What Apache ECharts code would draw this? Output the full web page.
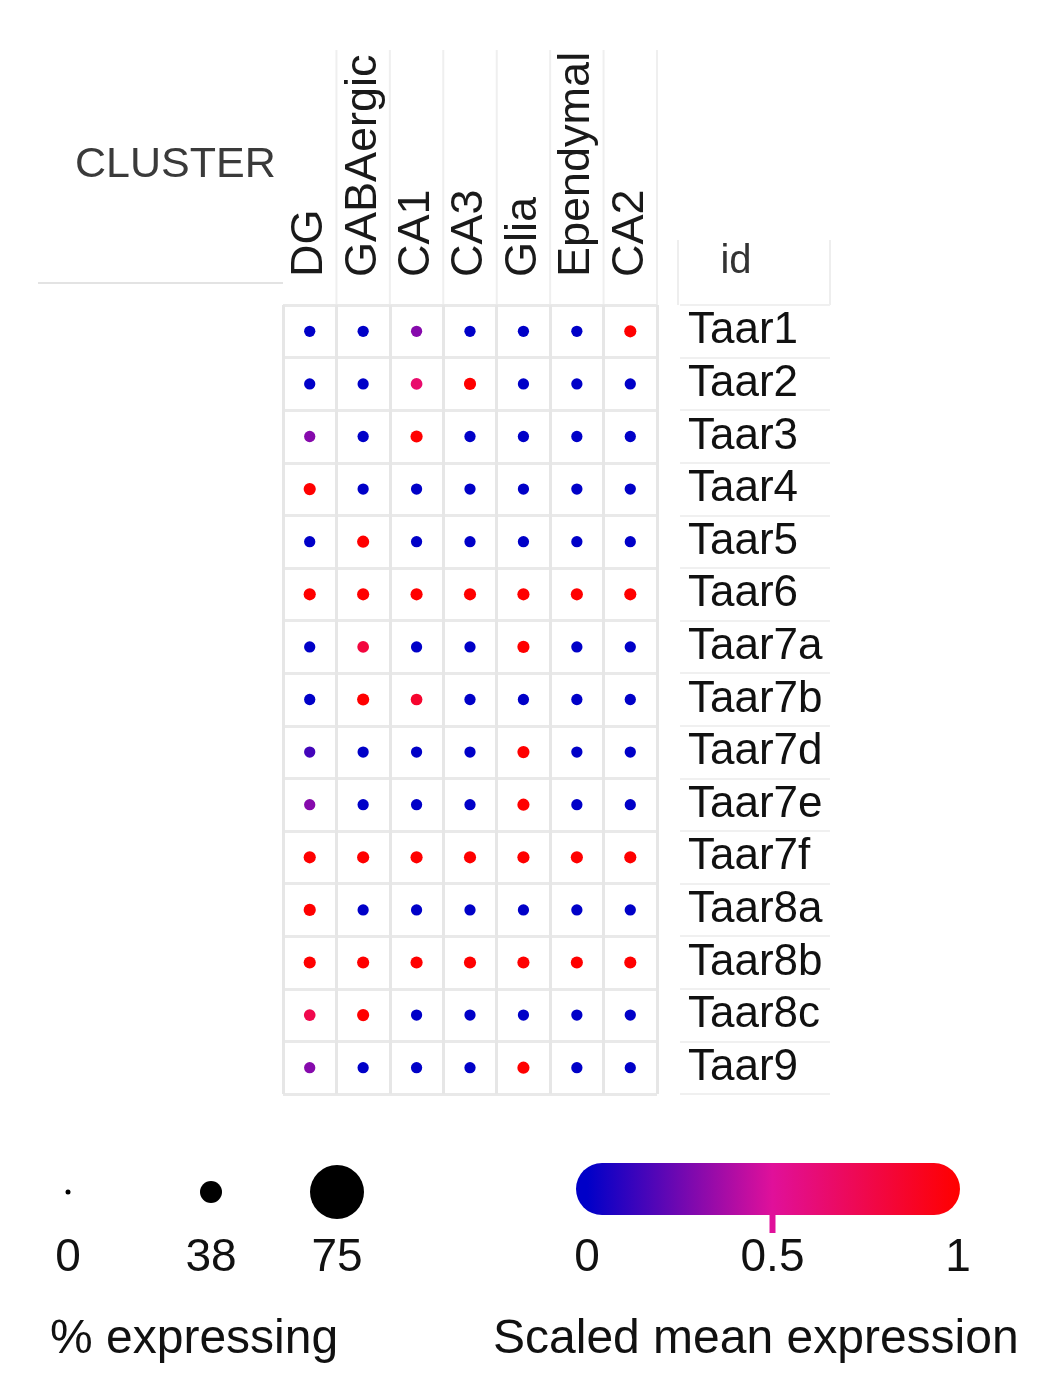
<!DOCTYPE html>
<html><head><meta charset="utf-8">
<script src="https://cdn.jsdelivr.net/npm/echarts@6/dist/echarts.min.js"></script>
<style>html,body{margin:0;padding:0;background:#fff}#c{width:1050px;height:1397px}</style>
</head><body><div id="c"></div>
<script>
const clusters = ['DG','GABAergic','CA1','CA3','Glia','Ependymal','CA2'];
const genes = ['Taar1','Taar2','Taar3','Taar4','Taar5','Taar6','Taar7a','Taar7b','Taar7d','Taar7e','Taar7f','Taar8a','Taar8b','Taar8c','Taar9'];
// scaled mean expression (rows = genes, cols = clusters)
const expr = [
  [0,0,0.3,0,0,0,1],
  [0,0,0.65,1,0,0,0],
  [0.3,0,1,0,0,0,0],
  [1,0,0,0,0,0,0],
  [0,1,0,0,0,0,0],
  [1,1,1,1,1,1,1],
  [0,0.8,0,0,1,0,0],
  [0,1,0.85,0,0,0,0],
  [0.15,0,0,0,1,0,0],
  [0.3,0,0,0,1,0,0],
  [1,1,1,1,1,1,1],
  [1,0,0,0,0,0,0],
  [1,1,1,1,1,1,1],
  [0.75,1,0,0,0,0,0],
  [0.3,0,0,0,1,0,0]
];
// % expressing
const pctExpr = [
  [14,14,14,14,14,14,16],
  [14,14,15,16,14,14,14],
  [14,14,16,14,14,14,14],
  [16,14,14,14,14,14,14],
  [14,16,14,14,14,14,14],
  [16,16,16,16,16,16,16],
  [14,15,14,14,16,14,14],
  [14,16,15,14,14,14,14],
  [14,14,14,14,16,14,14],
  [14,14,14,14,16,14,14],
  [16,16,16,16,16,16,16],
  [16,14,14,14,14,14,14],
  [16,16,16,16,16,16,16],
  [15,16,14,14,14,14,14],
  [14,14,14,14,16,14,14]
];
const sizeTicks = [0,38,75];
const sizeDiam = [5,22,54];
const colorTicks = [0,0.5,1];
const colorStops = ['#0000c8','#e0109a','#ff0000'];

function sizeOf(p){
  if (p <= sizeTicks[1]) return sizeDiam[0] + (p - sizeTicks[0])/(sizeTicks[1]-sizeTicks[0])*(sizeDiam[1]-sizeDiam[0]);
  return sizeDiam[1] + (p - sizeTicks[1])/(sizeTicks[2]-sizeTicks[1])*(sizeDiam[2]-sizeDiam[1]);
}

const FONT = '"Liberation Sans", Arial, sans-serif';
const G = {left:283, top:305, width:374, height:789};
const colW = G.width/clusters.length;

const data = [];
genes.forEach((g,r)=>clusters.forEach((c,ci)=>data.push([ci, r, expr[r][ci], pctExpr[r][ci]])));

const graphics = [];
graphics.push({type:'text', left:75, top:144, style:{text:'CLUSTER', font:'43px '+FONT, fill:'#3a3a3a'}});
graphics.push({type:'line', shape:{x1:38,y1:283,x2:283,y2:283}, style:{stroke:'#e3e3e3', lineWidth:2}});
for (let k=1;k<=clusters.length;k++){
  const x = G.left + k*colW;
  graphics.push({type:'line', shape:{x1:x,y1:50,x2:x,y2:G.top}, style:{stroke:'#efefef', lineWidth:2}});
}
graphics.push({type:'text', x:736, y:262, style:{text:'id', font:'40px '+FONT, fill:'#333', textAlign:'center', textVerticalAlign:'middle'}});
graphics.push({type:'line', shape:{x1:678,y1:240,x2:678,y2:G.top}, style:{stroke:'#eeeeee', lineWidth:2}});
graphics.push({type:'line', shape:{x1:830,y1:240,x2:830,y2:G.top}, style:{stroke:'#eeeeee', lineWidth:2}});
// size legend
const sizeX = [68,211,337];
sizeTicks.forEach((t,i)=>{
  graphics.push({type:'circle', shape:{cx:sizeX[i], cy:1192, r:sizeOf(t)/2}, style:{fill:'#000'}});
  graphics.push({type:'text', x:sizeX[i], y:1258, style:{text:String(t), font:'46px '+FONT, fill:'#111', textAlign:'center', textVerticalAlign:'middle'}});
});
graphics.push({type:'text', x:50, y:1340, style:{text:'% expressing', font:'48px '+FONT, fill:'#111', textAlign:'left', textVerticalAlign:'middle'}});
// colour legend
const cbX0 = 587, cbX1 = 958, barL = 576, barW = 384;
graphics.push({type:'rect', shape:{x:barL, y:1163, width:barW, height:52, r:26},
  style:{fill:new echarts.graphic.LinearGradient(0,0,1,0,
    colorTicks.map((t,i)=>({offset:(cbX0 + t*(cbX1-cbX0) - barL)/barW, color:colorStops[i]})))}});
graphics.push({type:'rect', shape:{x:cbX0 + 0.5*(cbX1-cbX0) - 3, y:1212, width:6, height:21}, style:{fill:'#e0109a'}});
colorTicks.forEach(t=>{
  graphics.push({type:'text', x:cbX0 + t*(cbX1-cbX0), y:1258, style:{text:String(t), font:'46px '+FONT, fill:'#111', textAlign:'center', textVerticalAlign:'middle'}});
});
graphics.push({type:'text', x:493, y:1340, style:{text:'Scaled mean expression', font:'48px '+FONT, fill:'#111', textAlign:'left', textVerticalAlign:'middle'}});

const chart = echarts.init(document.getElementById('c'), null, {renderer:'canvas'});
chart.setOption({
  animation:false,
  backgroundColor:'#fff',
  grid:[
    {left:G.left, top:G.top, width:G.width, height:G.height},
    {left:680, top:G.top, width:150, height:G.height}
  ],
  xAxis:[
    {type:'category', gridIndex:0, data:clusters, position:'top',
     axisLine:{show:false}, axisTick:{show:false, interval:0},
     axisLabel:{interval:0, rotate:-90, margin:28, fontSize:45, color:'#1a1a1a', fontFamily:FONT},
     splitLine:{show:true, interval:0, lineStyle:{color:'#e6e6e6', width:3}}},
    {type:'value', gridIndex:1, show:false}
  ],
  yAxis:[
    {type:'category', gridIndex:0, data:genes, inverse:true, position:'right',
     axisLine:{show:false}, axisTick:{show:false, interval:0},
     axisLabel:{interval:0, margin:31, fontSize:44, color:'#111', fontFamily:FONT, align:'left'},
     splitLine:{show:true, interval:0, lineStyle:{color:'#e9e9e9', width:3}}},
    {type:'category', gridIndex:1, data:genes, inverse:true,
     axisLine:{show:false}, axisTick:{show:false, interval:0}, axisLabel:{show:false, interval:0},
     splitLine:{show:true, interval:0, lineStyle:{color:'#f0f0f0', width:2}}}
  ],
  visualMap:{show:false, type:'continuous', dimension:2, min:0, max:1, seriesIndex:0,
    inRange:{color:colorStops}},
  series:[{type:'scatter', xAxisIndex:0, yAxisIndex:0, data:data,
    itemStyle:{opacity:1},
    symbolSize:v=>sizeOf(v[3])}],
  graphic:{elements:graphics}
});
</script></body></html>
